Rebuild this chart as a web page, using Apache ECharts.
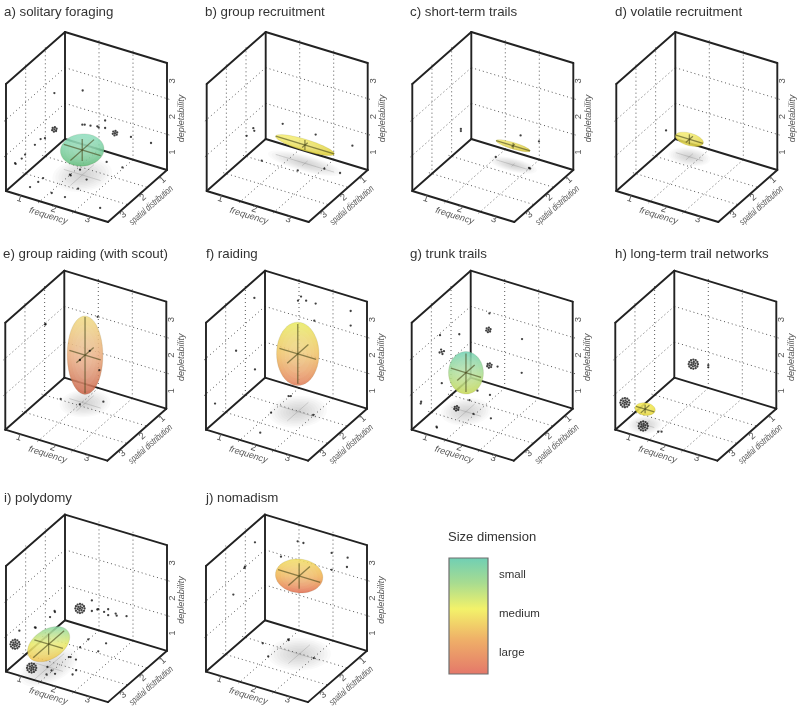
<!DOCTYPE html>
<html><head><meta charset="utf-8">
<style>html,body{margin:0;padding:0;background:#fff}#c{width:800px;height:714px}</style>
<script src="https://cdn.jsdelivr.net/npm/echarts@6/dist/echarts.min.js"></script>
</head><body><div id="c"></div>
<script>
const panelTitles = ['a) solitary foraging','b) group recruitment','c) short-term trails','d) volatile recruitment','e) group raiding (with scout)','f) raiding','g) trunk trails','h) long-term trail networks','i) polydomy','j) nomadism'];
const tickValues = [1,2,3];
const gridValues = [1.5,2.5];
const axisNames = ['frequency','spatial distribution','depletability'];
const sizeLegend = ['small','medium','large'];
// ellipsoid centres [frequency, spatial, depletability] and half-widths
const ellipsoidCentres = [[1.77,1.82,1.2],[1.96,1.03,1.01],[2.06,1.07,1.04],[1.25,1.08,0.99],[1.59,1.33,1.85],[2.06,1.53,2.12],[1.24,2.02,1.59],[1.03,2.9,0.94],[1.32,2.75,1.15],[2.1,1.53,2.72]];
const ellipsoidRadii = [[0.54,0.6,0.31],[0.86,0.14,0.14],[0.5,0.08,0.08],[0.4,0.18,0.14],[0.46,0.44,1.07],[0.54,0.54,0.835],[0.445,0.445,0.54],[0.27,0.22,0.12],[0.42,0.79,0.3],[0.62,0.55,0.36]];
const ellipsoidColours = [['#8fdfc0','#5fbb78'],['#f8f070','#d8c828'],['#f6ec66','#d4c02a'],['#f8f06c','#d8c82c'],['#f0dd80','#e8a878','#c85f45'],['#e8ec60','#f0c060','#e07a58'],['#6fd0b5','#a8dc90','#c8d850'],['#f6ec4c','#e2d22c'],['#88d8a8','#e8e860','#f0c050'],['#f0e060','#f0b050','#e06a50']];
// back wall points [frequency, depletability, (stacked count)]
const backWallPoints = [
 [[1.02,2.01],[1.68,1.36],[1.01,1.05],[1.08,1.07],[1.25,1.09],[1.45,1.13],[1.49,1.11],[1.68,1.15],[1.97,1.09,7],[2.44,1.12],[3.03,1.12]],
 [[1.0,1.07],[1.97,1.05],[3.05,1.05]],
 [[1.95,1.02],[2.49,1.01]],
 [],
 [[1.48,2.49],[0.96,1.13],[1.25,1.47],[1.53,1.01]],
 [[1.56,3.08],[1.47,2.94],[1.71,3.01],[1.99,3.01],[3.02,3.1],[3.02,2.69],[1.95,2.52]],
 [[1.05,2.46],[1.02,1.99,7],[2.01,2.02],[1.05,1.0,7],[1.29,1.04],[2.0,1.07]],
 [[1.06,1.04,19],[1.5,1.14],[1.5,1.08]],
 [[0.94,0.96,19],[1.29,1.29],[1.29,0.99],[1.45,1.08],[1.48,1.1],[1.65,1.07],[1.77,1.18],[1.77,1.01],[1.99,1.12],[2.02,1.07],[2.31,1.14]],
 [[1.46,3.02],[1.63,3.02],[0.97,2.44],[2.46,2.98],[2.93,2.98],[2.91,2.71],[2.46,2.5]]
];
// left wall points [spatial, depletability, (stacked count)]
const sideWallPoints = [
 [[1.04,2.05],[1.04,1.03,7],[1.52,1.02],[1.74,1.1],[2.03,1.08],[2.53,1.05],[2.7,1.02],[3.01,1.02],[3.04,1.06]],
 [[1.13,1.11],[1.47,1.06],[1.08,1.01]],
 [[1.03,1.04],[1.03,0.98]],
 [[0.97,0.97]],
 [[1.45,2.46],[1.48,2.47]],
 [[1.04,3.0],[1.97,1.97],[1.01,0.98],[3.04,1.01]],
 [[1.08,2.0],[2.06,2.45],[1.97,1.94,5],[1.97,1.06],[3.04,1.01],[3.02,1.05]],
 [[3.01,1.02,19]],
 [[3.04,1.05,19],[1.01,0.98],[1.03,1.02],[1.26,0.96],[1.99,1.01],[2.03,1.04],[2.82,1.33]],
 [[1.01,2.96],[1.52,2.52],[1.54,2.49],[2.11,2.01]]
];
// floor points [frequency, spatial, (stacked count)]
const floorPoints = [
 [[1.98,0.94],[2.46,0.97],[1.49,1.96],[1.53,1.99],[1.59,1.62],[1.98,1.96],[0.99,2.46],[0.98,2.69],[0.93,3.02],[1.55,2.99],[1.94,2.99],[2.02,2.46],[2.98,3.0]],
 [[0.95,1.48],[1.98,1.43],[2.52,1.01],[2.97,0.99]],
 [[1.48,0.95],[2.48,0.99],[2.52,1.0]],
 [],
 [[0.95,1.46],[1.95,1.02],[1.5,1.44]],
 [[1.47,0.98],[1.52,0.95],[1.5,1.92],[1.76,2.92],[2.48,1.47]],
 [[0.95,2.0,7],[0.97,3.05],[1.0,3.08],[1.35,0.99],[1.03,1.48],[1.95,1.98],[1.46,2.02],[0.97,0.97]],
 [[1.02,2.98,19],[1.49,3.03],[1.56,2.98]],
 [[0.97,3.01,19],[1.49,1.03],[1.98,0.97],[1.51,1.48],[2.01,1.42],[1.51,2.05],[1.55,2.03],[1.73,2.07],[1.29,2.76],[1.47,2.86],[1.63,2.96],[1.46,3.1],[2.03,2.76],[2.0,2.53]],
 [[1.03,1.53],[1.49,1.03],[1.52,1.06],[1.48,2.03],[2.52,1.51]]
];

// layout: pixel position of each box's rear floor corner, and title positions
const originsPx = [[65,139],[265.7,139],[471.3,139],[675.3,139],[64.3,377.7],[265,377.7],[470.7,377.7],[674.3,377.7],[65,621.7],[265,621.7]];
const titlesPx = [[4,5],[205,5],[410,5],[615,5],[3,247],[206,247],[410,247],[615,247],[4,491],[206,491]];
const LO=0.5, HI=3.5, Fx=34, Fy=10.33, Sx=-19.67, Sy=17.33, Dz=35.67;
const project=(f,s,d)=>[(f-LO)*Fx+(s-LO)*Sx, -(f-LO)*Fy-(s-LO)*Sy+(d-LO)*Dz];

const frameEdges=[[LO,LO,HI,HI,LO,HI],[LO,LO,HI,LO,HI,HI],[LO,LO,LO,LO,LO,HI],[HI,LO,LO,HI,LO,HI],[LO,HI,LO,LO,HI,HI],[LO,LO,LO,HI,LO,LO],[LO,LO,LO,LO,HI,LO],[LO,HI,LO,HI,HI,LO],[HI,HI,LO,HI,LO,LO]];
const E=0.09, dotted=[];
gridValues.forEach(g=>{
  dotted.push([g,LO,LO,g,LO,HI+E],[LO,LO,g,HI+E,LO,g]);       // back wall
  dotted.push([LO,g,LO,LO,g,HI+E],[LO,LO,g,LO,HI+E,g]);       // left wall
  dotted.push([g,LO,LO,g,HI+E,LO],[LO-E,g,LO,HI,g,LO]);       // floor
});
const texts=[];
tickValues.forEach(t=>{
  texts.push({p:[t,HI,LO],o:[-3.5,-2.7],t:String(t),r:-17,fs:9.5});
  texts.push({p:[HI,t,LO],o:[5.5,-1.5],t:String(t),r:41,fs:9.5});
  texts.push({p:[HI,LO,t],o:[5.5,0],t:String(t),r:90,fs:9.5});
});
texts.push({p:[2,HI,LO],o:[-8.7,-9.5],t:axisNames[0],r:-17,fs:9,i:1});
texts.push({p:[HI,2,LO],o:[13.7,-9.5],t:axisNames[1],r:41,fs:9.5,i:1,sx:0.72});
texts.push({p:[HI,LO,2],o:[14.7,-2],t:axisNames[2],r:90,fs:9,i:1});

function ellipsePts(api,c,r,scale){
  const vx=[Fx*r[0],Sx*r[1],0], vy=[-Fy*r[0],-Sy*r[1],Dz*r[2]];
  const q11=vx[0]**2+vx[1]**2, q12=vx[0]*vy[0]+vx[1]*vy[1], q22=vy[0]**2+vy[1]**2+vy[2]**2;
  const l11=Math.sqrt(q11), l21=q12/l11, l22=Math.sqrt(Math.max(q22-l21*l21,0.01));
  const o=project(c[0],c[1],c[2]), pts=[];
  for(let k=0;k<48;k++){const a=k/48*2*Math.PI, C=Math.cos(a)*scale, S=Math.sin(a)*scale;
    pts.push(api.coord([o[0]+l11*C,o[1]+l21*C+l22*S]));}
  return pts;
}
const lineEl=(api,a,b,style)=>{const A=api.coord(project(a[0],a[1],a[2])),B=api.coord(project(b[0],b[1],b[2]));
  return {type:'line',shape:{x1:A[0],y1:A[1],x2:B[0],y2:B[1]},style};};
function expand(p,toXYZ){
  const base=project(...toXYZ(p)), n=p[2]||1, out=[base];
  if(n>1){const first=Math.min(n-1,6);
    for(let k=0;k<first;k++){const a=k/first*2*Math.PI+0.3;out.push([base[0]+2.3*Math.cos(a),base[1]+2.3*Math.sin(a)]);}
    for(let k=0;k<n-7;k++){const a=k/(n-7)*2*Math.PI;out.push([base[0]+4.6*Math.cos(a),base[1]+4.6*Math.sin(a)]);}
  }
  return out;
}
const grids=[],xAxes=[],yAxes=[],series=[],titles=[];
panelTitles.forEach((title,i)=>{
  const [ox,oy]=originsPx[i];
  grids.push({left:ox-62,top:oy-115,width:180,height:210});
  xAxes.push({type:'value',gridIndex:i,min:-62,max:118,show:false});
  yAxes.push({type:'value',gridIndex:i,min:-95,max:115,show:false});
  titles.push({text:title,left:titlesPx[i][0],top:titlesPx[i][1]+1,padding:0,textStyle:{fontFamily:'Liberation Sans',fontSize:13.3,fontWeight:'normal',color:'#333'}});
  const common={xAxisIndex:i,yAxisIndex:i,silent:true,animation:false};
  series.push({...common,type:'custom',data:dotted,renderItem:(p,api)=>{
    const v=[0,1,2,3,4,5].map(k=>api.value(k));
    return lineEl(api,v.slice(0,3),v.slice(3),{stroke:'#555',lineWidth:1,lineDash:[1,3],fill:null});}});
  // floor shadow
  series.push({...common,type:'custom',data:[[...ellipsoidCentres[i],...ellipsoidRadii[i]]],renderItem:(p,api)=>{
    const c=[api.value(0),api.value(1),LO], r=[api.value(3),api.value(4),api.value(5)], kids=[];
    for(let k=0;k<10;k++){const t=1-k/10;
      const rr=[(r[0]*1.1+0.12)*t,(r[1]*1.1+0.22)*t,0];
      kids.push({type:'polygon',shape:{points:ellipsePts(api,c,rr,1)},style:{fill:'rgba(115,115,115,0.04)'}});}
    kids.push(lineEl(api,[c[0]-r[0],c[1],LO],[c[0]+r[0],c[1],LO],{stroke:'rgba(130,130,130,0.3)',lineWidth:1}));
    kids.push(lineEl(api,[c[0],c[1]-r[1],LO],[c[0],c[1]+r[1],LO],{stroke:'rgba(130,130,130,0.3)',lineWidth:1}));
    return {type:'group',children:kids};}});
  // projected data points on the three planes
  const pts=[...backWallPoints[i].flatMap(p=>expand(p,q=>[q[0],LO,q[1]])),
             ...sideWallPoints[i].flatMap(p=>expand(p,q=>[LO,q[0],q[1]])),
             ...floorPoints[i].flatMap(p=>expand(p,q=>[q[0],q[1],LO]))];
  series.push({...common,type:'scatter',data:pts,symbol:'circle',symbolSize:2.3,itemStyle:{color:'#111'}});
  series.push({...common,type:'custom',data:frameEdges,renderItem:(p,api)=>{
    const v=[0,1,2,3,4,5].map(k=>api.value(k));
    return lineEl(api,v.slice(0,3),v.slice(3),{stroke:'#222',lineWidth:1.9,lineCap:'round'});}});
  series.push({...common,type:'custom',data:texts.map((t,k)=>[k]),encode:{x:0,y:0},renderItem:(p,api)=>{
    const t=texts[api.value(0)], q=project(...t.p);
    const at=api.coord([q[0]+t.o[0],q[1]+t.o[1]]);
    return {type:'text',x:at[0],y:at[1],rotation:t.r*Math.PI/180,scaleX:t.sx||1,
      style:{text:t.t,fontFamily:'Liberation Sans',fontSize:t.fs,fontStyle:t.i?'italic':'normal',fill:'#555',textAlign:'center',textVerticalAlign:'middle'}};}});
  // ellipsoid
  series.push({...common,type:'custom',data:[[...ellipsoidCentres[i],...ellipsoidRadii[i]]],renderItem:(p,api)=>{
    const c=[api.value(0),api.value(1),api.value(2)], r=[api.value(3),api.value(4),api.value(5)];
    const cols=ellipsoidColours[i];
    const stops=cols.map((col,k)=>({offset:k/(cols.length-1),color:col}));
    const kids=[{type:'polygon',shape:{points:ellipsePts(api,c,r,1)},style:{fill:new echarts.graphic.LinearGradient(0,0,0,1,stops),opacity:0.86,stroke:'rgba(90,90,40,0.18)',lineWidth:0.8}}];
    [0.92,0.78,0.62,0.42].forEach(s=>kids.push({type:'polygon',shape:{points:ellipsePts(api,c,r,s)},style:{fill:'rgba(255,255,255,0.05)'}}));
    const ax={stroke:'rgba(70,70,25,0.6)',lineWidth:1.3};
    kids.push(lineEl(api,[c[0]-r[0],c[1],c[2]],[c[0]+r[0],c[1],c[2]],ax));
    kids.push(lineEl(api,[c[0],c[1]-r[1],c[2]],[c[0],c[1]+r[1],c[2]],ax));
    kids.push(lineEl(api,[c[0],c[1],c[2]-r[2]],[c[0],c[1],c[2]+r[2]],ax));
    return {type:'group',children:kids};}});
});
const legendTxt=(text,x,y,size)=>({type:'text',x,y,silent:true,style:{text,fontFamily:'Liberation Sans',fontSize:size,fill:'#333',textVerticalAlign:'middle'}});
const chart=echarts.init(document.getElementById('c'),null,{renderer:'canvas'});
chart.setOption({animation:false,backgroundColor:'#fff',title:titles,grid:grids,xAxis:xAxes,yAxis:yAxes,series,
  graphic:[
    {type:'rect',shape:{x:449,y:558,width:39,height:116},silent:true,style:{stroke:'#6e6e6e',lineWidth:1.2,
      fill:new echarts.graphic.LinearGradient(0,0,0,1,[{offset:0,color:'#6fcfb5'},{offset:0.22,color:'#a8dc90'},{offset:0.44,color:'#f3f26a'},{offset:0.7,color:'#efb068'},{offset:1,color:'#e4776a'}])}},
    legendTxt('Size dimension',448,537,13),
    legendTxt(sizeLegend[0],499,575,11.5),
    legendTxt(sizeLegend[1],499,614,11.5),
    legendTxt(sizeLegend[2],499,653,11.5)
  ]});
</script></body></html>
